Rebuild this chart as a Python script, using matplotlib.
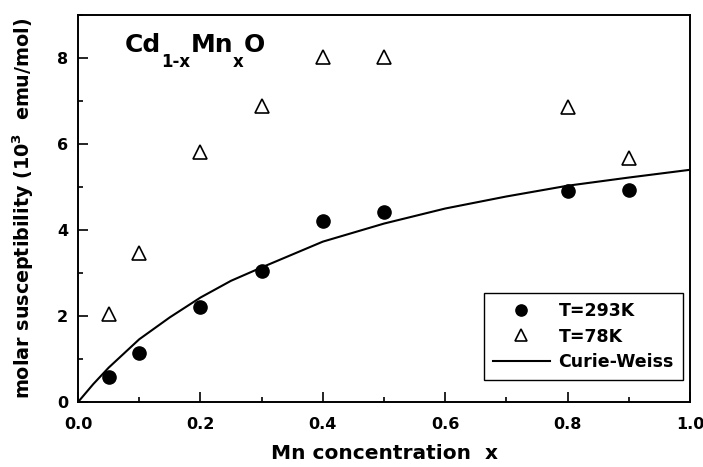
import numpy as np
import matplotlib
matplotlib.use('Agg')
import matplotlib.pyplot as plt
from matplotlib.ticker import MultipleLocator

plt.rcParams['font.family'] = ['DejaVu Sans']
plt.rcParams['font.weight'] = 'bold'
plt.rcParams['mathtext.fontset'] = 'custom'
plt.rcParams['mathtext.rm'] = 'DejaVu Sans:bold'
plt.rcParams['mathtext.bf'] = 'DejaVu Sans:bold'
plt.rcParams['mathtext.default'] = 'rm'

# data
x_conc = [0.05, 0.1, 0.2, 0.3, 0.4, 0.5, 0.8, 0.9]
chi_293 = [0.59, 1.13, 2.22, 3.04, 4.22, 4.42, 4.90, 4.94]
chi_78 = [2.05, 3.46, 5.81, 6.88, 8.03, 8.03, 6.87, 5.68]

# Curie-Weiss curve, points
cw_x = [0.0, 0.025, 0.05, 0.1, 0.15, 0.2, 0.25, 0.3, 0.4, 0.5, 0.6, 0.7, 0.8, 0.9, 1.0]
cw_y = [0.0, 0.42, 0.80, 1.46, 1.97, 2.43, 2.82, 3.13, 3.73, 4.15, 4.50, 4.78, 5.03, 5.22, 5.40]

fig = plt.figure(figsize=(7.03, 4.67), dpi=100)
ax = fig.add_axes([0.111, 0.139, 0.8705, 0.829])

ax.plot(x_conc, chi_293, 'o', color='black', markersize=9.5, label='T=293K')
ax.plot(x_conc, chi_78, '^', color='black', markerfacecolor='white',
        markeredgewidth=1.2, markersize=10, label='T=78K')
ax.plot(cw_x, cw_y, '-', color='black', linewidth=1.5, label='Curie-Weiss')

ax.set_xlim(0, 1.0)
ax.set_ylim(0, 9)
ax.xaxis.set_major_locator(MultipleLocator(0.2))
ax.xaxis.set_minor_locator(MultipleLocator(0.1))
ax.yaxis.set_major_locator(MultipleLocator(2))
ax.yaxis.set_minor_locator(MultipleLocator(1))
ax.tick_params(which='both', direction='in', top=False, right=False, width=1.2)
ax.tick_params(which='major', length=7, labelsize=11.5)
ax.tick_params(which='minor', length=3.5)
ax.tick_params(axis='x', which='major', pad=10.5)
ax.tick_params(axis='y', which='major', pad=7)
ax.xaxis.set_major_formatter(plt.FormatStrFormatter('%.1f'))
for sp in ax.spines.values():
    sp.set_linewidth(1.4)

ax.set_xlabel('Mn concentration  x', fontsize=14.5, fontweight='bold', labelpad=9)
ax.set_ylabel('molar susceptibility (10$^3$  emu/mol)', fontsize=13.8,
              fontweight='bold', labelpad=15)

# title formula with low subscripts
ya, ys = 0.904, 0.866
t1 = ax.text(0.077, ya, 'Cd', transform=ax.transAxes, fontsize=18,
             fontweight='bold', va='baseline')
t2 = ax.annotate('1-x', xy=(1, ys), xycoords=(t1, 'axes fraction'),
                 fontsize=12, fontweight='bold', va='baseline')
t3 = ax.annotate('Mn', xy=(1, ya), xycoords=(t2, 'axes fraction'),
                 fontsize=18, fontweight='bold', va='baseline')
t4 = ax.annotate('x', xy=(1, ys), xycoords=(t3, 'axes fraction'),
                 fontsize=12, fontweight='bold', va='baseline')
t5 = ax.annotate('O', xy=(1, ya), xycoords=(t4, 'axes fraction'),
                 fontsize=18, fontweight='bold', va='baseline')

leg = ax.legend(loc='lower right', bbox_to_anchor=(0.988, 0.057), borderaxespad=0,
                fancybox=False, edgecolor='black', framealpha=1,
                handlelength=3.3, handletextpad=0.5, labelspacing=0.45,
                borderpad=0.5, markerscale=0.85, prop={'weight': 'bold', 'size': 12.5})
leg.get_frame().set_linewidth(1.0)

fig.savefig('out.png', dpi=100)
